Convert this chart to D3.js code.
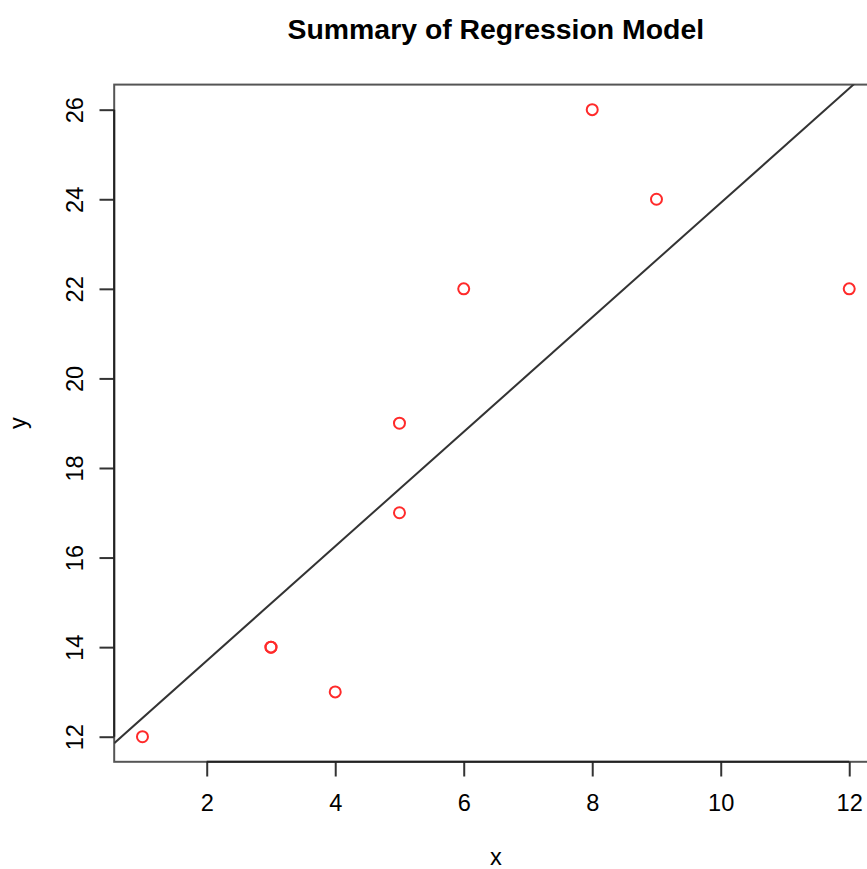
<!DOCTYPE html>
<html>
<head>
<meta charset="utf-8">
<script src="https://cdn.jsdelivr.net/npm/d3@7"></script>
<style>
    html, body { margin: 0; padding: 0; background: #fff; }
    svg { display: block; font-family: "Liberation Sans", Arial, Helvetica, sans-serif; }
</style>
</head>
<body>
<div id="chart"></div>
<script>
// observed data
var xValues = [1, 3, 3, 4, 5, 5, 6, 8, 9, 12];
var yValues = [12, 14, 14, 13, 17, 19, 22, 26, 24, 22];
// fitted line
var lineIntercept = 11.14;
var lineSlope = 1.278;
var xTicks = [2, 4, 6, 8, 10, 12];
var yTicks = [12, 14, 16, 18, 20, 22, 24, 26];
var chartTitle = 'Summary of Regression Model';
var xLabel = 'x';
var yLabel = 'y';

var width = 867;
var height = 869;
var plot = {left: 114.2, right: 877.5, top: 84.6, bottom: 761.8};
var tickLen = 14.7;
var tickFont = 23.6;

// R style 4% padding around the data range
var xr = d3.extent(xValues);
var yr = d3.extent(yValues);
var xPad = (xr[1] - xr[0]) * 0.04;
var yPad = (yr[1] - yr[0]) * 0.04;

var x = d3.scaleLinear()
    .domain([xr[0] - xPad, xr[1] + xPad])
    .range([plot.left, plot.right]);
var y = d3.scaleLinear()
    .domain([yr[0] - yPad, yr[1] + yPad])
    .range([plot.bottom, plot.top]);

var svg = d3.select('#chart')
    .append('svg')
    .attr('width', width)
    .attr('height', height);

svg.append('clipPath')
    .attr('id', 'plotclip')
    .append('rect')
    .attr('x', plot.left)
    .attr('y', plot.top)
    .attr('width', plot.right - plot.left)
    .attr('height', plot.bottom - plot.top);

// title
svg.append('text')
    .attr('x', (plot.left + plot.right) / 2)
    .attr('y', 38.5)
    .attr('text-anchor', 'middle')
    .style('font-weight', 'bold')
    .style('font-size', '28.4px')
    .text(chartTitle);

// box
svg.append('rect')
    .attr('x', plot.left)
    .attr('y', plot.top)
    .attr('width', plot.right - plot.left)
    .attr('height', plot.bottom - plot.top)
    .attr('fill', 'none')
    .attr('stroke', '#555')
    .attr('stroke-width', 2);

// axes
var xAxis = d3.axisBottom(x)
    .tickValues(xTicks)
    .tickSize(tickLen)
    .tickSizeOuter(0)
    .tickPadding(1);
var yAxis = d3.axisLeft(y)
    .tickValues(yTicks)
    .tickSize(tickLen)
    .tickSizeOuter(0);

var gx = svg.append('g')
    .attr('transform', 'translate(0,' + plot.bottom + ')')
    .call(xAxis);
var gy = svg.append('g')
    .attr('transform', 'translate(' + plot.left + ',0)')
    .call(yAxis);

[gx, gy].forEach(function (g) {
    g.select('.domain').remove();
    g.selectAll('.tick line')
        .attr('stroke', '#333')
        .attr('stroke-width', 2);
    g.selectAll('.tick text')
        .attr('fill', '#000')
        .style('font-size', tickFont + 'px')
        .style('font-family', '"Liberation Sans", Arial, sans-serif');
});

// axis lines from first to last tick, like R
gx.append('line')
    .attr('x1', x(xTicks[0]))
    .attr('x2', x(xTicks[xTicks.length - 1]))
    .attr('stroke', '#222')
    .attr('stroke-width', 2);
gy.append('line')
    .attr('y1', y(yTicks[0]))
    .attr('y2', y(yTicks[yTicks.length - 1]))
    .attr('stroke', '#222')
    .attr('stroke-width', 2);

gx.selectAll('.tick text')
    .attr('y', 49.2)
    .attr('dy', null);

gy.selectAll('.tick text')
    .attr('x', null)
    .attr('dy', null)
    .attr('text-anchor', 'middle')
    .attr('transform', 'translate(-31,0) rotate(-90)');

// axis titles
svg.append('text')
    .attr('x', (plot.left + plot.right) / 2)
    .attr('y', plot.bottom + 103)
    .attr('text-anchor', 'middle')
    .style('font-size', tickFont + 'px')
    .text(xLabel);
svg.append('text')
    .attr('transform', 'translate(' + (plot.left - 87.8) + ',' + ((plot.top + plot.bottom) / 2) + ') rotate(-90)')
    .attr('text-anchor', 'middle')
    .style('font-size', tickFont + 'px')
    .text(yLabel);

// regression line, clipped to the plot region
var xd = x.domain();
svg.append('line')
    .attr('clip-path', 'url(#plotclip)')
    .attr('x1', x(xd[0]))
    .attr('y1', y(lineIntercept + lineSlope * xd[0]))
    .attr('x2', x(xd[1]))
    .attr('y2', y(lineIntercept + lineSlope * xd[1]))
    .attr('stroke', '#333')
    .attr('stroke-width', 2);

// points
var points = xValues.map(function (d, i) {
    return {x: d, y: yValues[i]};
});
svg.append('g')
    .selectAll('circle')
    .data(points)
    .enter().append('circle')
    .attr('cx', function (d) { return x(d.x); })
    .attr('cy', function (d) { return y(d.y); })
    .attr('r', 5.5)
    .attr('fill', 'none')
    .attr('stroke', '#ff2a2a')
    .attr('stroke-width', 2);
</script>
</body>
</html>
